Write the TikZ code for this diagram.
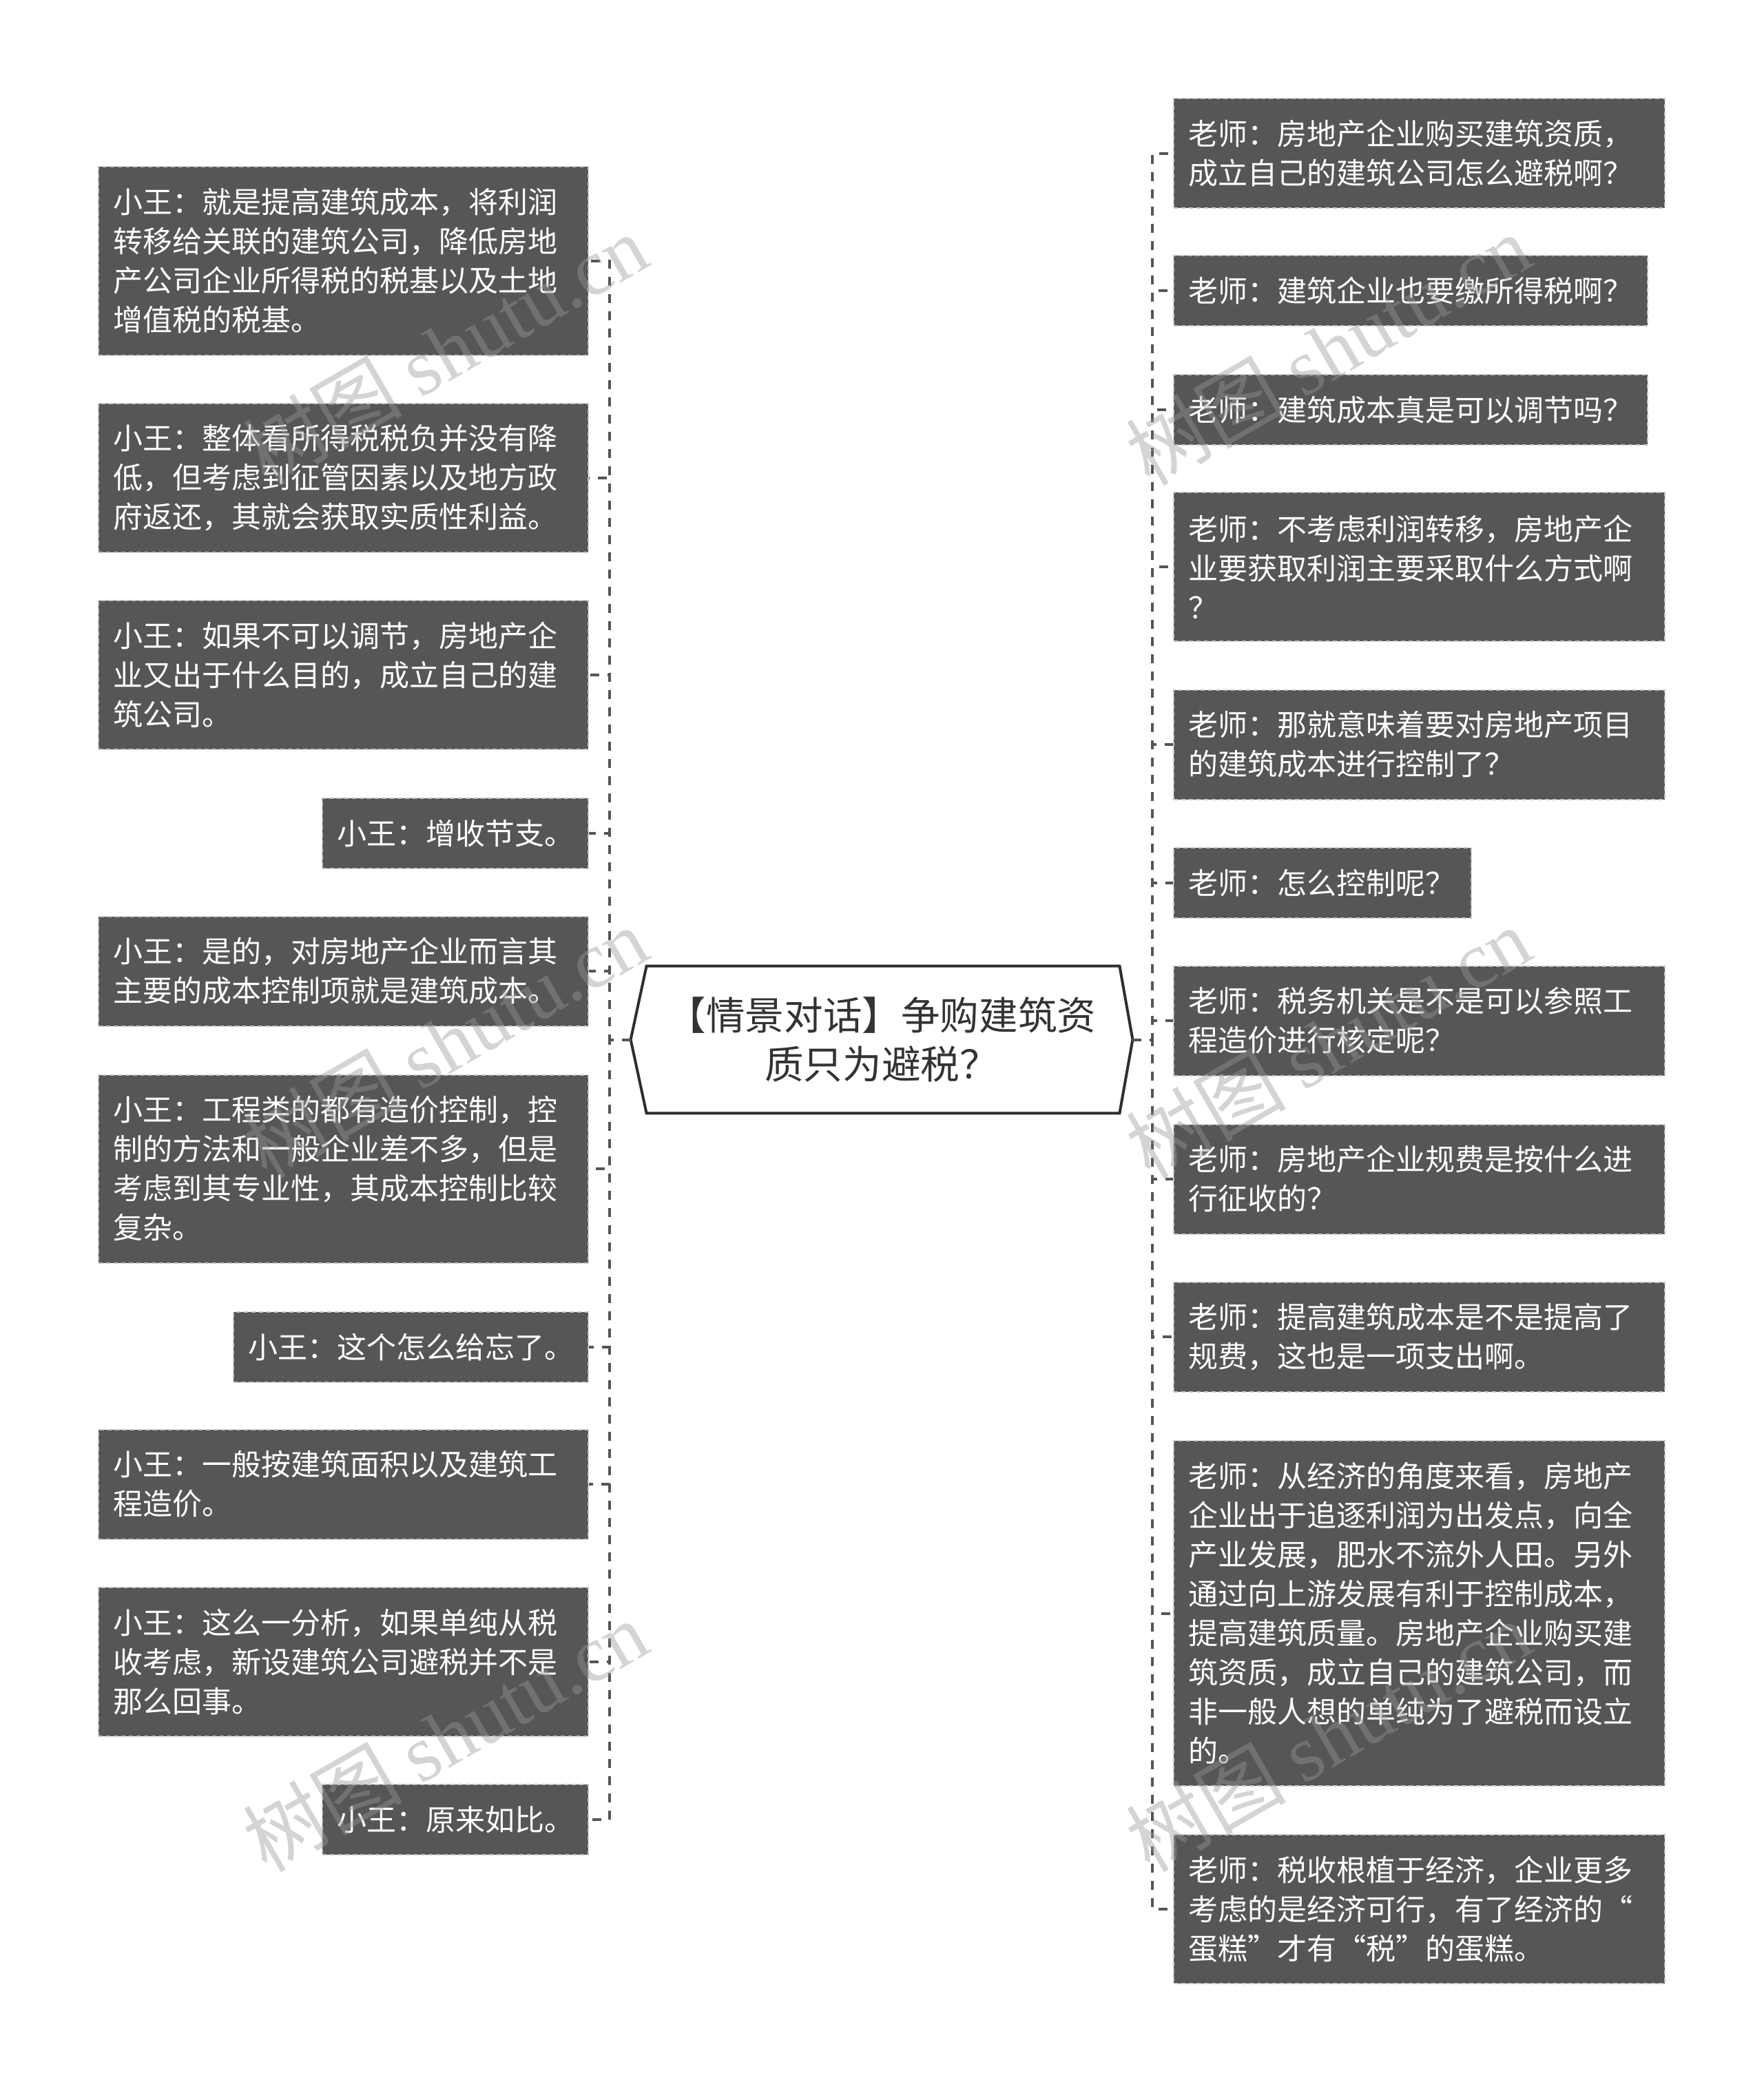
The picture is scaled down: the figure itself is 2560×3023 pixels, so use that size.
\documentclass[tikz,border=0pt]{standalone}
\usepackage{fontspec}
\setmainfont{Noto Sans CJK SC}
\newfontfamily\wmlat{Liberation Serif}
\usetikzlibrary{calc}
\definecolor{boxfill}{HTML}{565656}
\definecolor{boxline}{HTML}{C4C4C4}
\definecolor{connc}{HTML}{555555}
\definecolor{rootline}{HTML}{2E2E2E}
\definecolor{roottext}{HTML}{333333}
\definecolor{wmc}{HTML}{989898}
\tikzset{
  leaf/.style={fill=boxfill, draw=boxline, line width=1pt, dash pattern=on 3pt off 2.5pt,
    text=white, inner sep=0pt, align=left, anchor=center,
    font=\fontsize{21.5pt}{28.5pt}\selectfont},
  root/.style={inner sep=0pt, align=center, text=roottext,
    font=\fontsize{28.3pt}{35.5pt}\selectfont},
  rootshape/.style={draw=rootline, line width=2pt, line join=miter},
  conn/.style={draw=connc, line width=2pt, dash pattern=on 6.5pt off 6pt},
  wm/.style={text=wmc, opacity=0.42, rotate=30, inner sep=0pt,
    font=\fontsize{58pt}{58pt}\selectfont}
}
\newcommand\leafbox[6]{%
  \pgfmathsetmacro\lbw{(#4-#2)*0.5}%
  \pgfmathsetmacro\lbh{(#5-#3)*0.5}%
  \pgfmathsetmacro\lbt{(#4-#2-42)*0.5}%
  \node[leaf, minimum width=\lbw pt, minimum height=\lbh pt, text width=\lbt pt]
    (#1) at ({(#2+#4)/2},{(#3+#5)/2}) {#6};}
\begin{document}
\begin{tikzpicture}[x=0.5pt,y=-0.5pt]
\useasboundingbox (0,0) rectangle (2560,3023);
% trunk coordinates
\coordinate (tl) at (885,0);
\coordinate (tr) at (1673,0);
% root
\node[root, minimum width=364pt, minimum height=106.5pt] (c) at (1280,1509.5)
  {【情景对话】争购建筑资\\质只为避税？};
\draw[rootshape] (c.west) -- ([xshift=11.5pt]c.north west) -- ([xshift=-9.5pt]c.north east)
  -- (c.east) -- ([xshift=-9.5pt]c.south east) -- ([xshift=11.5pt]c.south west) -- cycle;
% left leaves
\leafbox{L1}{143}{242.5}{854}{515.5}{小王：就是提高建筑成本，将利润\\转移给关联的建筑公司，降低房地\\产公司企业所得税的税基以及土地\\增值税的税基。}
\leafbox{L2}{143}{586}{854}{802}{小王：整体看所得税税负并没有降\\低，但考虑到征管因素以及地方政\\府返还，其就会获取实质性利益。}
\leafbox{L3}{143}{872}{854}{1088}{小王：如果不可以调节，房地产企\\业又出于什么目的，成立自己的建\\筑公司。}
\leafbox{L4}{468}{1159}{854}{1261}{小王：增收节支。}
\leafbox{L5}{143}{1330.5}{854}{1489.5}{小王：是的，对房地产企业而言其\\主要的成本控制项就是建筑成本。}
\leafbox{L6}{143}{1560.5}{854}{1833.5}{小王：工程类的都有造价控制，控\\制的方法和一般企业差不多，但是\\考虑到其专业性，其成本控制比较\\复杂。}
\leafbox{L7}{339}{1905}{854}{2007}{小王：这个怎么给忘了。}
\leafbox{L8}{143}{2075.5}{854}{2234.5}{小王：一般按建筑面积以及建筑工\\程造价。}
\leafbox{L9}{143}{2305}{854}{2521}{小王：这么一分析，如果单纯从税\\收考虑，新设建筑公司避税并不是\\那么回事。}
\leafbox{L10}{468}{2591}{854}{2693}{小王：原来如比。}
% right leaves
\leafbox{R1}{1704}{143.5}{2417}{302.5}{老师：房地产企业购买建筑资质，\\成立自己的建筑公司怎么避税啊？}
\leafbox{R2}{1704}{371}{2392}{473}{老师：建筑企业也要缴所得税啊？}
\leafbox{R3}{1704}{544}{2392}{646}{老师：建筑成本真是可以调节吗？}
\leafbox{R4}{1704}{715}{2417}{931}{老师：不考虑利润转移，房地产企\\业要获取利润主要采取什么方式啊\\？}
\leafbox{R5}{1704}{1001.5}{2417}{1160.5}{老师：那就意味着要对房地产项目\\的建筑成本进行控制了？}
\leafbox{R6}{1704}{1231}{2136}{1333}{老师：怎么控制呢？}
\leafbox{R7}{1704}{1402.5}{2417}{1561.5}{老师：税务机关是不是可以参照工\\程造价进行核定呢？}
\leafbox{R8}{1704}{1632.5}{2417}{1791.5}{老师：房地产企业规费是按什么进\\行征收的？}
\leafbox{R9}{1704}{1861.5}{2417}{2020.5}{老师：提高建筑成本是不是提高了\\规费，这也是一项支出啊。}
\leafbox{R10}{1704}{2092}{2417}{2593}{老师：从经济的角度来看，房地产\\企业出于追逐利润为出发点，向全\\产业发展，肥水不流外人田。另外\\通过向上游发展有利于控制成本，\\提高建筑质量。房地产企业购买建\\筑资质，成立自己的建筑公司，而\\非一般人想的单纯为了避税而设立\\的。}
\leafbox{R11}{1704}{2664}{2417}{2880}{老师：税收根植于经济，企业更多\\考虑的是经济可行，有了经济的“\\蛋糕”才有“税”的蛋糕。}
% connectors
\foreach \n in {L1,L2,L3,L4,L5,L6,L7,L8,L9,L10}
  \draw[conn] (c.west) -- (c.west -| tl) |- (\n.east);
\foreach \n in {R1,R2,R3,R4,R5,R6,R7,R8,R9,R10,R11}
  \draw[conn] (c.east) -- (c.east -| tr) |- (\n.west);
% watermarks
\node[wm] (w1) at (646,507) {树图 {\wmlat shutu.cn}};
\node[wm] (w2) at (646,1513) {树图 {\wmlat shutu.cn}};
\node[wm] (w3) at (646,2520) {树图 {\wmlat shutu.cn}};
\node[wm] (w4) at (1928,507) {树图 {\wmlat shutu.cn}};
\node[wm] (w5) at (1928,1513) {树图 {\wmlat shutu.cn}};
\node[wm] (w6) at (1928,2520) {树图 {\wmlat shutu.cn}};
\end{tikzpicture}
\end{document}
